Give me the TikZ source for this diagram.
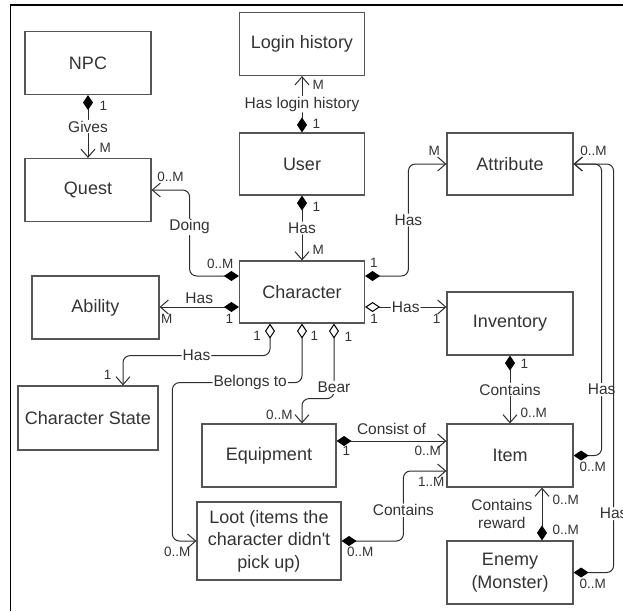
\documentclass[tikz,border=0pt]{standalone}
\usepackage{fontspec}
\setmainfont{Liberation Sans}
\usepackage{tikz}
\usetikzlibrary{arrows.meta, positioning, calc}
\usepackage{xcolor}
\definecolor{linegray}{RGB}{45, 45, 45}
\definecolor{boxgray}{RGB}{85, 85, 85}
\definecolor{textgray}{RGB}{51, 51, 51}

\begin{document}
\begin{tikzpicture}[
    x=1pt, y=1pt,
    entity/.style={draw=boxgray, line width=1.2pt, minimum width=126pt,
                   minimum height=63pt, align=center, text=textgray,
                   font=\fontsize{18}{22.5}\selectfont, inner sep=2pt},
    rel/.style={draw=linegray, line width=1pt, rounded corners=7pt},
    comp/.style={rel, {Diamond[length=15pt, width=10pt, black]}-{Straight Barb[length=8pt, width=14pt]}},
    aggr/.style={rel, {Diamond[open, fill=white, length=15pt, width=10pt, black]}-{Straight Barb[length=8pt, width=14pt]}},
    lbl/.style={fill=white, text=textgray, font=\fontsize{15.5}{17.5}\selectfont,
                inner sep=1pt, align=center},
    mult/.style={text=textgray, font=\fontsize{13.5}{16}\selectfont, inner sep=1pt},
  ]
    \useasboundingbox (0,0) rectangle (623,-611);

    % frame (cropped screenshot edge)
    \draw[black, line width=1.2pt] (10.5,-611) -- (10.5,-5) -- (623,-5);

    % Entities
    \node[entity] (npc) at (88,-63) {NPC};
    \node[entity] (quest) at (88,-190) {Quest};
    \node[entity, minimum width=125pt] (login) at (302,-44) {Login history};
    \node[entity, minimum width=125pt, minimum height=62pt] (user) at (302,-164) {User};
    \node[entity, minimum height=62pt] (attr) at (510,-164) {Attribute};
    \node[entity, minimum width=125pt, minimum height=62pt] (char) at (302,-292) {Character};
    \node[entity, minimum width=127pt] (ability) at (95.5,-307.5) {Ability};
    \node[entity] (inv) at (510,-323.5) {Inventory};
    \node[entity, minimum width=140pt, minimum height=64pt] (cstate) at (88,-418) {Character State};
    \node[entity, minimum width=134pt] (equip) at (269,-455.5) {Equipment};
    \node[entity] (item) at (510,-455.5) {Item};
    \node[entity, minimum width=144pt, minimum height=78pt] (loot) at (269,-541)
      {Loot (items the\\character didn\textquotesingle t\\pick up)};
    \node[entity] (enemy) at (510,-572.5) {Enemy\\(Monster)};

    % NPC gives quests
    \draw[comp] (npc.south) -- node[lbl] (gives) {Gives}
      node[mult, pos=0.17, right=10pt] (m-npc) {1}
      node[mult, pos=0.84, right=10pt] (m-quest) {M} (quest.north);

    % User and login history
    \draw[comp] (user.north) -- node[lbl] (haslogin) {Has login history}
      node[mult, pos=0.16, right=9pt] (m-user1) {1}
      node[mult, pos=0.84, right=9pt] (m-login) {M} (login.south);

    % User has characters
    \draw[comp] (user.south) -- node[lbl] (hasuser) {Has}
      node[mult, pos=0.18, right=9pt] (m-user2) {1}
      node[mult, pos=0.83, right=9pt] (m-char1) {M} (char.north);

    % Character doing quests
    \draw[comp] ([yshift=16pt]char.west)
      -| node[mult, pos=0.19, above=6pt] (m-char2) {0..M}
         node[lbl, pos=0.785] (doing) {Doing} ([xshift=38pt]quest.east)
      -- node[mult, pos=0.5, above=7pt] (m-quest2) {0..M} (quest.east);

    % Character attributes
    \draw[comp] ([yshift=16pt]char.east)
      -| node[mult, pos=0.1, above=7pt] (m-char3) {1}
         node[lbl, pos=0.75] (hasattr) {Has} ([xshift=-38pt]attr.west)
      -- node[mult, pos=0.68, above=7pt] (m-attr1) {M} (attr.west);

    % Character abilities
    \draw[comp] ([yshift=-15pt]char.west) -- node[lbl, above=2pt] (hasab) {Has}
      node[mult, pos=0.12, below=6pt] (m-char4) {1}
      node[mult, pos=0.91, below=6pt] (m-ab) {M} ([yshift=-15pt]char.west -| ability.east);

    % Character inventory
    \draw[aggr] ([yshift=-15pt]char.east) -- node[lbl] (hasinv) {Has}
      node[mult, pos=0.11, below=6pt] (m-char5) {1}
      node[mult, pos=0.88, below=6pt] (m-inv1) {1} ([yshift=-15pt]char.east -| inv.west);

    % Character state
    \draw[aggr] ([xshift=-32pt]char.south) -- ++(0,-32)
      -| node[lbl, pos=0.25] (hasstate) {Has}
         node[mult, pos=0.83, left=10pt] (m-state) {1} ([xshift=35pt]cstate.north);
    \node[mult, left=8pt] (m-char6) at ([xshift=-32pt, yshift=-12pt]char.south) {1};

    % Loot belongs to character
    \draw[aggr] (char.south) -- node[mult, pos=0.2, right=7pt] (m-char7) {1} ++(0,-59)
      -| node[lbl, pos=0.2] (belongs) {Belongs to} ([xshift=-24pt]loot.west)
      -- node[mult, pos=0.2, below=5pt] (m-loot1) {0..M} (loot.west);

    % Character bears equipment
    \draw[aggr] ([xshift=32pt]char.south)
      -- node[mult, pos=0.17, right=9pt] (m-char8) {1}
         node[lbl, pos=0.85] (bear) {Bear} ++(0,-75)
      -| node[mult, pos=0.82, left=8pt] (m-equip1) {0..M} ([xshift=33pt]equip.north);

    % Equipment consists of items
    \draw[comp] ([yshift=14.5pt]equip.east) -- node[lbl, above=5pt] (consist) {Consist of}
      node[mult, pos=0.09, below=4pt] (m-equip2) {1}
      node[mult, pos=0.83, below=4pt] (m-item1) {0..M} ([yshift=14.5pt]equip.east -| item.west);

    % Loot contains items
    \draw[comp] (loot.east)
      -| node[mult, pos=0.15, below=5pt] (m-loot2) {0..M}
         node[lbl, pos=0.72] (lootcont) {Contains} ([xshift=-43pt, yshift=-15.5pt]item.west)
      -- node[mult, pos=0.65, below=5pt] (m-item2) {1..M} ([yshift=-15.5pt]item.west);

    % Inventory contains items
    \draw[comp] (inv.south) -- node[lbl] (invcont) {Contains}
      node[mult, pos=0.12, right=9pt] (m-inv2) {1}
      node[mult, pos=0.84, right=9pt] (m-item3) {0..M} (item.north);

    % Enemy reward
    \draw[comp] ([xshift=32pt]enemy.north) -- node[lbl, left=8pt] (reward) {Contains\\reward}
      node[mult, pos=0.2, right=9pt] (m-enemy1) {0..M}
      node[mult, pos=0.76, right=9pt] (m-item4) {0..M} ([xshift=32pt]item.south);

    % Item attributes
    \draw[comp] (item.east)
      -| node[mult, pos=0.34, below=5pt] (m-item5) {0..M}
         node[lbl, pos=0.613] (hasitem) {Has} ([xshift=28pt]attr.east)
      -- node[mult, pos=0.29, above=7pt] (m-attr2) {0..M} (attr.east);

    % Enemy attributes
    \draw[comp] (enemy.east)
      -| node[mult, pos=0.24, below=5pt] (m-enemy2) {0..M}
         node[lbl, pos=0.572] (hasenemy) {Has} ([xshift=40pt]attr.east)
      -- (attr.east);
  \end{tikzpicture}
\end{document}
